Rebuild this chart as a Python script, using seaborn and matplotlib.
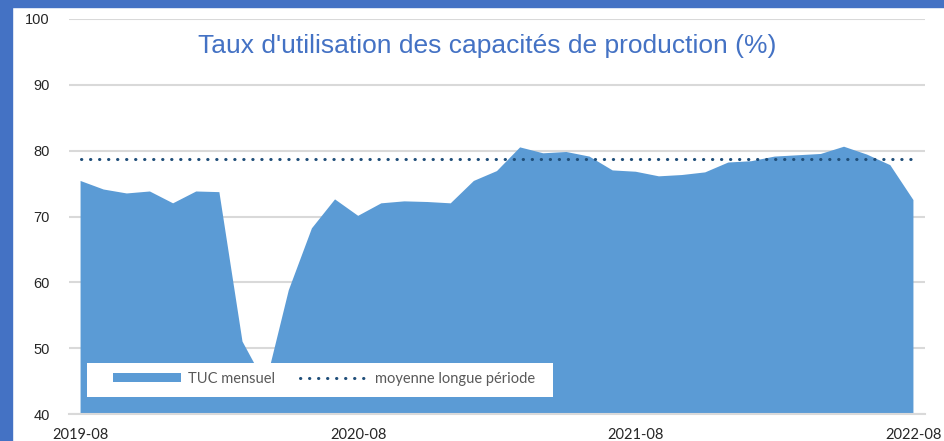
import matplotlib.pyplot as plt
import pandas as pd
import seaborn as sns
from matplotlib.patches import Patch, Rectangle
from matplotlib.lines import Line2D

# monthly capacity utilisation, 2019-08 .. 2022-08
months = pd.period_range("2019-08", "2022-08", freq="M").strftime("%Y-%m").tolist()
tuc = [75.4, 74.1, 73.5, 73.8, 72.0, 73.8, 73.7, 51.0, 44.5, 58.8, 68.2, 72.6,
       70.1, 72.0, 72.3, 72.2, 72.0, 75.4, 76.9, 80.5, 79.6, 79.8, 79.1, 77.0,
       76.8, 76.1, 76.3, 76.7, 78.2, 78.4, 79.1, 79.3, 79.5, 80.6, 79.4, 77.8, 72.5]
long_run_mean = 78.7
label_months = ["2019-08", "2020-08", "2021-08", "2022-08"]
y_ticks = [40, 50, 60, 70, 80, 90, 100]

FILL = "#5B9BD5"
DOTS = "#1F4E79"
GRID = "#D9D9D9"
DOTTED = (0, (0.1, 2.85))

sns.set_style("white")
plt.rcParams["font.family"] = ["Liberation Sans", "DejaVu Sans"]

df = pd.DataFrame({"month": months, "tuc": tuc})
df["pos"] = range(len(df))
df["mean"] = long_run_mean

fig = plt.figure(figsize=(9.44, 4.41), dpi=100)
ax = fig.add_axes([69 / 944, 1 - 414 / 441, 856 / 944, 395 / 441])

# slide frame
fig.add_artist(Rectangle((0, 0), 12 / 944, 1, transform=fig.transFigure, color="#4472C4", zorder=-5))
fig.add_artist(Rectangle((0, 1 - 7 / 441), 1, 7 / 441, transform=fig.transFigure, color="#4472C4", zorder=-5))

ax.fill_between(df["pos"], df["tuc"], 0, color=FILL, linewidth=0, zorder=2)
sns.lineplot(data=df, x="pos", y="mean", ax=ax, color=DOTS, linewidth=2.2, zorder=3)
ax.lines[-1].set_linestyle(DOTTED)
ax.lines[-1].set_dash_capstyle("round")

ax.set_xlim(-0.5, len(months) - 0.5)
ax.set_ylim(40, 100)
ax.set_yticks(y_ticks)
ax.yaxis.grid(True, color=GRID, linewidth=1.5)
ax.set_axisbelow(True)

label_pos = [months.index(m) for m in label_months]
ax.set_xticks([p - 0.5 for p in label_pos])
ax.set_xticklabels([])
ax.set_xticks(label_pos, minor=True)
ax.set_xticklabels(label_months, minor=True, family=["Lato", "DejaVu Sans"], fontsize=10.5)
ax.tick_params(axis="x", which="major", length=5, width=1, color=GRID, direction="out")
ax.tick_params(axis="x", which="minor", length=0, pad=10)
ax.tick_params(axis="y", length=0, pad=14, labelsize=10.5)
ax.set_xlabel("")
ax.set_ylabel("")

for s in ["top", "right", "left"]:
    ax.spines[s].set_visible(False)
ax.spines["bottom"].set_color(GRID)
ax.spines["bottom"].set_linewidth(1.5)

ax.text(0.489, 0.932, "Taux d'utilisation des capacités de production (%)",
        transform=ax.transAxes, ha="center", va="center", fontsize=19, color="#4472C4")

# legend box
ax.add_patch(Rectangle((18 / 856, 17 / 395), 466 / 856, 34 / 395, transform=ax.transAxes,
                       facecolor="white", edgecolor="none", zorder=4))
handles = [Patch(facecolor=FILL, edgecolor="none"),
           Line2D([], [], color=DOTS, linewidth=2.2, linestyle=DOTTED, dash_capstyle="round")]
leg = ax.legend(handles, ["TUC mensuel", "moyenne longue période"], ncol=2,
                loc="center left", bbox_to_anchor=(44 / 856, 35 / 395),
                frameon=False, borderpad=0, borderaxespad=0,
                handlelength=4.66, handleheight=0.6, handletextpad=0.5,
                columnspacing=1.7, prop={"family": ["Lato", "DejaVu Sans"], "size": 10.5})
for t in leg.get_texts():
    t.set_color("#595959")
leg.set_zorder(5)

fig.savefig("out.png", dpi=100)
